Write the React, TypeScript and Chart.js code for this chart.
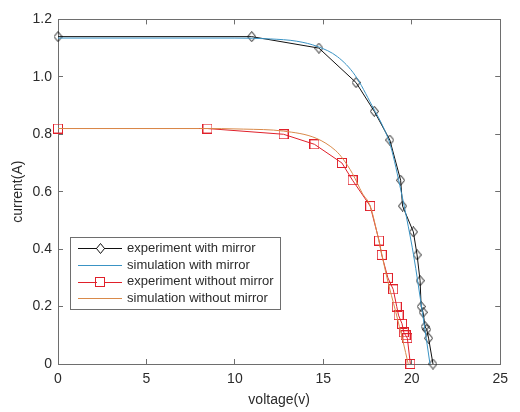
import { useEffect, useRef } from 'react';
import { Chart, registerables } from 'chart.js';

Chart.register(...registerables);

// ---------- data ----------
const expWithMirrorV = [0, 10.95, 14.75, 16.85, 17.88, 18.76, 19.37, 19.48, 20.09, 20.3, 20.47, 20.53, 20.64, 20.75, 20.85, 20.95, 21.2];
const expWithMirrorI = [1.14, 1.14, 1.10, 0.98, 0.88, 0.78, 0.64, 0.55, 0.46, 0.38, 0.29, 0.20, 0.18, 0.13, 0.12, 0.09, 0];

const simWithMirrorV = [0, 10, 12, 13.5, 14.7, 15.8, 16.8, 17.75, 18.5, 18.8, 19.4, 19.8, 20.1, 20.6, 21.03];
const simWithMirrorI = [1.135, 1.135, 1.132, 1.124, 1.105, 1.07, 1.005, 0.9, 0.81, 0.76, 0.6, 0.48, 0.38, 0.18, 0];

const expWithoutMirrorV = [0, 8.45, 12.75, 14.5, 16.05, 16.65, 17.65, 18.15, 18.3, 18.65, 18.95, 19.15, 19.25, 19.45, 19.55, 19.65, 19.75, 19.92];
const expWithoutMirrorI = [0.82, 0.82, 0.80, 0.765, 0.70, 0.64, 0.55, 0.43, 0.38, 0.30, 0.26, 0.20, 0.17, 0.14, 0.11, 0.10, 0.09, 0];

const simWithoutMirrorV = [0, 8, 10.5, 12.75, 14.6, 15.7, 16.1, 16.65, 17.2, 17.65, 18.1, 18.6, 19.1, 19.5, 19.8];
const simWithoutMirrorI = [0.82, 0.82, 0.818, 0.811, 0.786, 0.743, 0.715, 0.663, 0.595, 0.55, 0.44, 0.30, 0.18, 0.08, 0];

const seriesLabels = [
  'experiment with mirror',
  'simulation with mirror',
  'experiment without mirror',
  'simulation without mirror',
];

const xTickValues = [0, 5, 10, 15, 20, 25];
const yTickValues = [0, 0.2, 0.4, 0.6, 0.8, 1, 1.2];
const xTitle = 'voltage(v)';
const yTitle = 'current(A)';

// ---------- styles ----------
const FONT = '"Liberation Sans", Arial, Helvetica, sans-serif';
const AXIS = '#6e6e6e';
const TEXT = '#2b2b2b';
const BLACK = '#111111';
const BLUE = '#3A93C4';
const RED = '#E0202A';
const ORANGE = '#D98A4A';

const toPts = (xs: number[], ys: number[]) => xs.map((x, i) => ({ x, y: ys[i] }));

function makeDiamond(): HTMLCanvasElement {
  const c = document.createElement('canvas');
  c.width = 9;
  c.height = 11;
  const g = c.getContext('2d')!;
  g.strokeStyle = BLACK;
  g.lineWidth = 1;
  g.beginPath();
  g.moveTo(4.5, 0.5);
  g.lineTo(8.5, 5.5);
  g.lineTo(4.5, 10.5);
  g.lineTo(0.5, 5.5);
  g.closePath();
  g.stroke();
  return c;
}

function makeSquare(): HTMLCanvasElement {
  const c = document.createElement('canvas');
  c.width = 10;
  c.height = 10;
  const g = c.getContext('2d')!;
  g.strokeStyle = RED;
  g.lineWidth = 1;
  g.strokeRect(0.5, 0.5, 9, 9);
  return c;
}

const legendPlugin = {
  id: 'boxLegend',
  afterDatasetsDraw(chart: any) {
    const { ctx, chartArea } = chart;
    const x0 = Math.round(chartArea.left + 12);
    const y0 = Math.round(chartArea.bottom - 127);
    ctx.save();
    ctx.font = `13px ${FONT}`;
    const ds = chart.data.datasets;
    const maxW = Math.max(...ds.map((d: any) => ctx.measureText(d.label).width));
    const w = Math.round(57 + maxW + 6);
    const h = 72;
    ctx.fillStyle = '#ffffff';
    ctx.fillRect(x0, y0, w, h);
    ctx.strokeStyle = AXIS;
    ctx.lineWidth = 1;
    ctx.strokeRect(x0 + 0.5, y0 + 0.5, w, h);
    ds.forEach((d: any, i: number) => {
      const cy = y0 + 11.3 + i * 16.7;
      const ly = Math.round(cy) + 0.5;
      ctx.strokeStyle = d.borderColor;
      ctx.lineWidth = 1;
      ctx.beginPath();
      ctx.moveTo(x0 + 8, ly);
      ctx.lineTo(x0 + 52, ly);
      ctx.stroke();
      const ps = d.pointStyle;
      if (ps && typeof ps === 'object') {
        ctx.fillStyle = '#ffffff';
        ctx.fillRect(x0 + 30 - 3, Math.round(cy) - 3, 7, 7);
        ctx.drawImage(ps, x0 + 30 - Math.floor(ps.width / 2), Math.round(cy) - Math.floor(ps.height / 2));
      }
      ctx.fillStyle = TEXT;
      ctx.textBaseline = 'middle';
      ctx.textAlign = 'left';
      ctx.fillText(d.label, x0 + 57, cy);
    });
    ctx.restore();
  },
};

export default function App() {
  const ref = useRef<HTMLCanvasElement | null>(null);

  useEffect(() => {
    if (!ref.current) return;
    const diamond = makeDiamond();
    const square = makeSquare();

    const grid = {
      drawOnChartArea: false,
      drawTicks: true,
      tickLength: -5,
      color: AXIS,
      lineWidth: 1,
    };
    const border = { display: true, color: AXIS, width: 1 };
    const tickFont = { family: FONT, size: 14 };
    const titleFont = { family: FONT, size: 14 };

    const setX = (s: any) => { s.ticks = xTickValues.map((v) => ({ value: v })); };
    const setY = (s: any) => { s.ticks = yTickValues.map((v) => ({ value: v })); };

    const chart = new Chart(ref.current, {
      type: 'line',
      data: {
        datasets: [
          {
            label: seriesLabels[0],
            data: toPts(expWithMirrorV, expWithMirrorI),
            borderColor: BLACK,
            borderWidth: 1,
            pointStyle: diamond as any,
            pointRadius: 4,
            tension: 0,
            order: 4,
            clip: 10,
          },
          {
            label: seriesLabels[1],
            data: toPts(simWithMirrorV, simWithMirrorI),
            borderColor: BLUE,
            borderWidth: 1,
            pointRadius: 0,
            cubicInterpolationMode: 'monotone',
            order: 3,
            clip: 10,
          },
          {
            label: seriesLabels[2],
            data: toPts(expWithoutMirrorV, expWithoutMirrorI),
            borderColor: RED,
            borderWidth: 1,
            pointStyle: square as any,
            pointRadius: 4,
            tension: 0,
            order: 2,
            clip: 10,
          },
          {
            label: seriesLabels[3],
            data: toPts(simWithoutMirrorV, simWithoutMirrorI),
            borderColor: ORANGE,
            borderWidth: 1,
            pointRadius: 0,
            cubicInterpolationMode: 'monotone',
            order: 1,
            clip: 10,
          },
        ] as any,
      },
      options: {
        animation: false,
        responsive: false,
        maintainAspectRatio: false,
        layout: { padding: { left: 0, right: 9, top: 13, bottom: 0 } },
        plugins: {
          legend: { display: false },
          tooltip: { enabled: false },
        },
        scales: {
          x: {
            type: 'linear',
            position: 'bottom',
            min: 0,
            max: 25,
            afterBuildTicks: setX,
            ticks: { color: TEXT, font: tickFont, padding: 12, maxRotation: 0 },
            grid,
            border,
            title: { display: true, text: xTitle, color: TEXT, font: titleFont, padding: { top: 0, bottom: 3 } },
            afterFit: (s: any) => { s.height = 48; },
          },
          x2: {
            type: 'linear',
            position: 'top',
            min: 0,
            max: 25,
            afterBuildTicks: setX,
            ticks: { display: false },
            grid,
            border,
            afterFit: (s: any) => { s.height = 0; },
          },
          y: {
            type: 'linear',
            position: 'left',
            min: 0,
            max: 1.2,
            afterBuildTicks: setY,
            ticks: { color: TEXT, font: tickFont, padding: 11 },
            grid,
            border,
            title: { display: true, text: yTitle, color: TEXT, font: titleFont, padding: { top: 10, bottom: 0 } },
            afterFit: (s: any) => { s.width = 58; },
          },
          y2: {
            type: 'linear',
            position: 'right',
            min: 0,
            max: 1.2,
            afterBuildTicks: setY,
            ticks: { display: false },
            grid,
            border,
            afterFit: (s: any) => { s.width = 0; },
          },
        },
      } as any,
      plugins: [legendPlugin],
    });

    return () => chart.destroy();
  }, []);

  return (
    <div style={{ position: 'fixed', left: 0, top: 0, width: 520, height: 412, background: '#fff' }}>
      <canvas ref={ref} width={520} height={412} style={{ display: 'block' }} />
    </div>
  );
}
